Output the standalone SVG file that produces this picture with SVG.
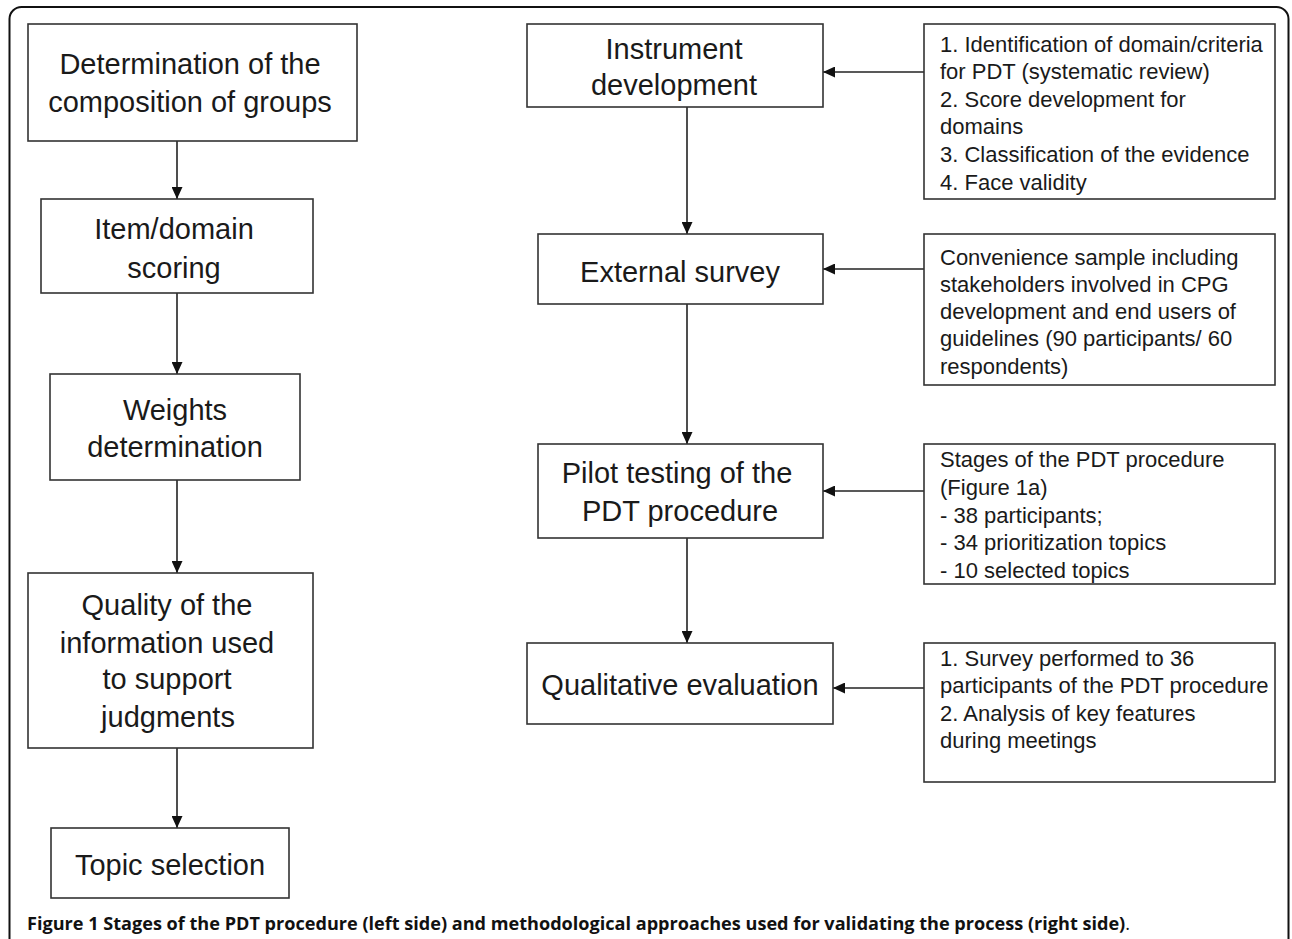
<svg xmlns="http://www.w3.org/2000/svg" width="1292" height="939" viewBox="0 0 1292 939">
<style>
.box{fill:#fff;stroke:#333;stroke-width:1.6}
.big{font-family:"Liberation Sans",Arial,sans-serif;font-size:29px;fill:#1a1a1a;text-anchor:middle}
.sm{font-family:"Liberation Sans",Arial,sans-serif;font-size:22px;fill:#1a1a1a}
.con{stroke:#222;stroke-width:1.6;fill:none;marker-end:url(#ah)}
.cap{font-family:"Open Sans","Liberation Sans",sans-serif;font-size:17.5px;font-weight:bold;fill:#111}
</style>
<defs>
<marker id="ah" markerUnits="userSpaceOnUse" markerWidth="12" markerHeight="11" refX="12" refY="5.5" orient="auto">
<path d="M0,0 L12,5.5 L0,11 Z" fill="#111"/>
</marker>
</defs>
<rect x="9.5" y="7" width="1279" height="1000" rx="12" fill="#fff" stroke="#111" stroke-width="2"/>
<g id="connectors">
<line class="con" x1="177" y1="141" x2="177" y2="199"/>
<line class="con" x1="177" y1="293" x2="177" y2="374"/>
<line class="con" x1="177" y1="480" x2="177" y2="573"/>
<line class="con" x1="177" y1="748" x2="177" y2="828"/>
<line class="con" x1="687" y1="107" x2="687" y2="234"/>
<line class="con" x1="687" y1="304" x2="687" y2="444"/>
<line class="con" x1="687" y1="538" x2="687" y2="643"/>
<line class="con" x1="924" y1="72" x2="823" y2="72"/>
<line class="con" x1="924" y1="269" x2="823" y2="269"/>
<line class="con" x1="924" y1="491" x2="823" y2="491"/>
<line class="con" x1="924" y1="688" x2="833" y2="688"/>
</g>
<g id="n_determination">
<rect class="box" x="28" y="24" width="329" height="117"/>
<text class="big" x="190" y="74">Determination of the</text>
<text class="big" x="190" y="112">composition of groups</text>
</g>
<g id="n_item">
<rect class="box" x="41" y="199" width="272" height="94"/>
<text class="big" x="174" y="239">Item/domain</text>
<text class="big" x="174" y="278">scoring</text>
</g>
<g id="n_weights">
<rect class="box" x="50" y="374" width="250" height="106"/>
<text class="big" x="175" y="420">Weights</text>
<text class="big" x="175" y="457">determination</text>
</g>
<g id="n_quality">
<rect class="box" x="28" y="573" width="285" height="175"/>
<text class="big" x="167" y="615">Quality of the</text>
<text class="big" x="167" y="653">information used</text>
<text class="big" x="167" y="689">to support</text>
<text class="big" x="168" y="727">judgments</text>
</g>
<g id="n_topic">
<rect class="box" x="51" y="828" width="238" height="70"/>
<text class="big" x="170" y="875">Topic selection</text>
</g>
<g id="n_instrument">
<rect class="box" x="527" y="24" width="296" height="83"/>
<text class="big" x="674" y="59">Instrument</text>
<text class="big" x="674" y="95">development</text>
</g>
<g id="n_external">
<rect class="box" x="538" y="234" width="285" height="70"/>
<text class="big" x="680" y="282">External survey</text>
</g>
<g id="n_pilot">
<rect class="box" x="538" y="444" width="285" height="94"/>
<text class="big" x="677" y="483">Pilot testing of the</text>
<text class="big" x="680" y="521">PDT procedure</text>
</g>
<g id="n_qualitative">
<rect class="box" x="527" y="643" width="306" height="81"/>
<text class="big" x="680" y="695">Qualitative evaluation</text>
</g>
<g id="n_info1">
<rect class="box" x="924" y="24" width="351" height="175"/>
<text class="sm" x="940" y="52">1. Identification of domain/criteria</text>
<text class="sm" x="940" y="79">for PDT (systematic review)</text>
<text class="sm" x="940" y="107">2. Score development for</text>
<text class="sm" x="940" y="134">domains</text>
<text class="sm" x="940" y="162">3. Classification of the evidence</text>
<text class="sm" x="940" y="190">4. Face validity</text>
</g>
<g id="n_info2">
<rect class="box" x="924" y="234" width="351" height="151"/>
<text class="sm" x="940" y="265">Convenience sample including</text>
<text class="sm" x="940" y="292">stakeholders involved in CPG</text>
<text class="sm" x="940" y="319">development and end users of</text>
<text class="sm" x="940" y="346">guidelines (90 participants/ 60</text>
<text class="sm" x="940" y="374">respondents)</text>
</g>
<g id="n_info3">
<rect class="box" x="924" y="444" width="351" height="140"/>
<text class="sm" x="940" y="467">Stages of the PDT procedure</text>
<text class="sm" x="940" y="495">(Figure 1a)</text>
<text class="sm" x="940" y="523">- 38 participants;</text>
<text class="sm" x="940" y="550">- 34 prioritization topics</text>
<text class="sm" x="940" y="578">- 10 selected topics</text>
</g>
<g id="n_info4">
<rect class="box" x="924" y="643" width="351" height="139"/>
<text class="sm" x="940" y="666">1. Survey performed to 36</text>
<text class="sm" x="940" y="693">participants of the PDT procedure</text>
<text class="sm" x="940" y="721">2. Analysis of key features</text>
<text class="sm" x="940" y="748">during meetings</text>
</g>
<text class="cap" x="27" y="930" textLength="1103" lengthAdjust="spacingAndGlyphs">Figure 1 Stages of the PDT procedure (left side) and methodological approaches used for validating the process (right side)<tspan font-weight="normal">.</tspan></text>
</svg>
